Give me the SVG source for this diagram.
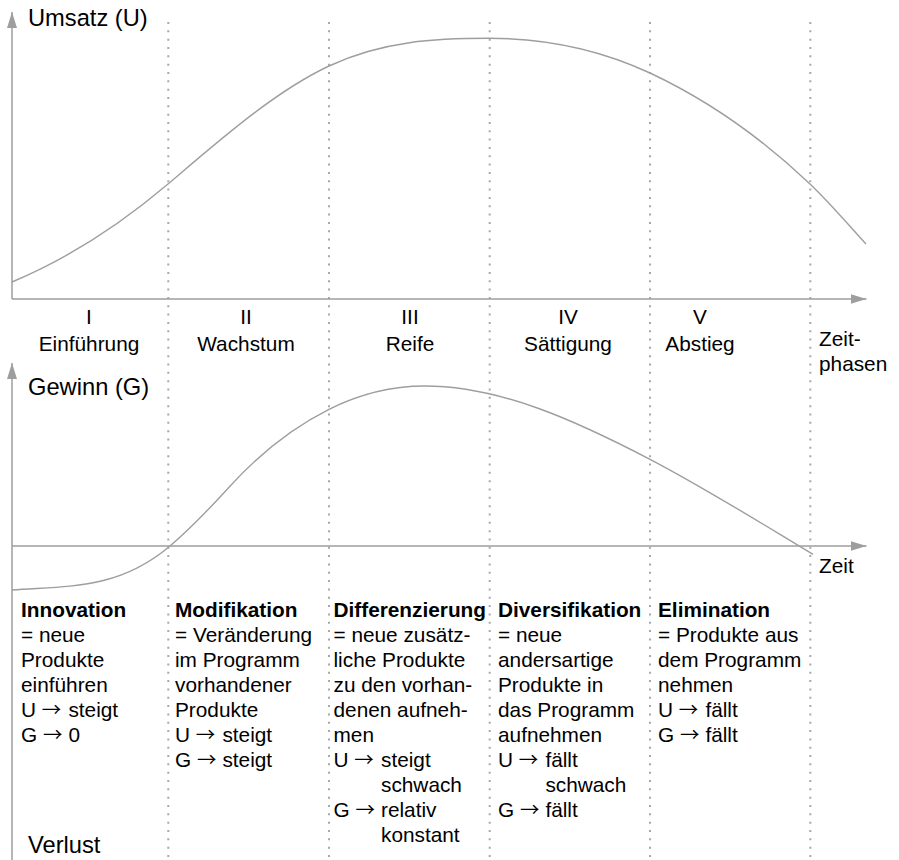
<svg xmlns="http://www.w3.org/2000/svg" width="899" height="860" viewBox="0 0 899 860">
<style>
.t{font-family:"Liberation Sans",Arial,Helvetica,sans-serif;font-size:20.8px;fill:#000}
.ax{font-size:23.7px}
.b{font-weight:bold}
.c{text-anchor:middle}
.ar{font-family:"Noto Sans CJK SC","DejaVu Sans",sans-serif;font-size:19.5px}
.axis{stroke:#9e9e9e;stroke-width:1.5;fill:none}
.curve{stroke:#9e9e9e;stroke-width:1.4;fill:none}
.div{stroke:#a8a8a8;stroke-width:2;stroke-dasharray:2 6.33;fill:none}
</style>
<defs>
<marker id="arr" markerUnits="userSpaceOnUse" markerWidth="17" markerHeight="11" refX="16" refY="5" orient="auto">
<path d="M0,0 L16,5 L0,10 Z" fill="#9e9e9e"/>
</marker>
</defs>
<rect width="899" height="860" fill="#fff"/>
<g id="dividers">
<line class="div" x1="168.3" y1="22" x2="168.3" y2="860"/>
<line class="div" x1="329" y1="22" x2="329" y2="860"/>
<line class="div" x1="489.7" y1="22" x2="489.7" y2="860"/>
<line class="div" x1="650" y1="22" x2="650" y2="860"/>
<line class="div" x1="810.3" y1="22" x2="810.3" y2="860"/>
</g>
<g id="connectors">
<path class="axis" d="M12,299 L12,12" marker-end="url(#arr)"/>
<path class="axis" d="M12,299 L866.5,299" marker-end="url(#arr)"/>
<path class="axis" d="M12,860 L12,363" marker-end="url(#arr)"/>
<path class="axis" d="M12,546 L866.5,546" marker-end="url(#arr)"/>
<path id="umsatz-curve" class="curve" d="M12,282 C64,260.2 116,228.2 168,184 C221.67,138.4 275.33,91.2 329,66 C382.57,40.8 436.13,38.3 489.7,38.3 C543.13,38.3 596.57,48.1 650,73 C703.33,98 756.67,133.3 810,184 C828.67,201.7 847.33,223.5 866,244"/>
<path id="gewinn-curve" class="curve" d="M12,590 C64.67,585.8 117.33,590.8 170,546 C189.83,529.1 209.67,508.5 229.5,486.7 C262.67,450.2 295.83,425.9 329,409.3 C360.87,393.4 392.73,386 424.6,386 C499.73,386 574.87,420.2 650,459.3 C704.33,487.6 758.67,521.7 813,554.3"/>
</g>
<g id="axis-labels">
<text class="t ax" x="28" y="26">Umsatz (U)</text>
<text class="t ax" x="28" y="395">Gewinn (G)</text>
<text class="t ax" x="28" y="853">Verlust</text>
<text class="t" x="819" y="346">Zeit-<tspan x="819" dy="25">phasen</tspan></text>
<text class="t" x="819" y="573">Zeit</text>
</g>
<g id="phase-1"><text class="t c" x="89" y="324">I<tspan x="89" dy="27">Einführung</tspan></text></g>
<g id="phase-2"><text class="t c" x="246" y="324">II<tspan x="246" dy="27">Wachstum</tspan></text></g>
<g id="phase-3"><text class="t c" x="410" y="324">III<tspan x="410" dy="27">Reife</tspan></text></g>
<g id="phase-4"><text class="t c" x="568" y="324">IV<tspan x="568" dy="27">Sättigung</tspan></text></g>
<g id="phase-5"><text class="t c" x="700" y="324">V<tspan x="700" dy="27">Abstieg</tspan></text></g>
<g id="strategy-1">
<text class="t" x="21" y="616.5"><tspan class="b">Innovation</tspan><tspan x="21" dy="25">= neue</tspan><tspan x="21" dy="25">Produkte</tspan><tspan x="21" dy="25">einführen</tspan><tspan x="21" dy="25">U <tspan class="ar">→</tspan></tspan><tspan x="68.4">steigt</tspan><tspan x="21" dy="25">G <tspan class="ar">→</tspan></tspan><tspan x="68.4">0</tspan></text>
</g>
<g id="strategy-2">
<text class="t" x="175" y="616.5"><tspan class="b">Modifikation</tspan><tspan x="175" dy="25">= Veränderung</tspan><tspan x="175" dy="25">im Programm</tspan><tspan x="175" dy="25">vorhandener</tspan><tspan x="175" dy="25">Produkte</tspan><tspan x="175" dy="25">U <tspan class="ar">→</tspan></tspan><tspan x="222.4">steigt</tspan><tspan x="175" dy="25">G <tspan class="ar">→</tspan></tspan><tspan x="222.4">steigt</tspan></text>
</g>
<g id="strategy-3">
<text class="t" x="333.5" y="616.5"><tspan class="b">Differenzierung</tspan><tspan x="333.5" dy="25">= neue zusätz-</tspan><tspan x="333.5" dy="25">liche Produkte</tspan><tspan x="333.5" dy="25">zu den vorhan-</tspan><tspan x="333.5" dy="25">denen aufneh-</tspan><tspan x="333.5" dy="25">men</tspan><tspan x="333.5" dy="25">U <tspan class="ar">→</tspan></tspan><tspan x="381">steigt</tspan><tspan x="381" dy="25">schwach</tspan><tspan x="333.5" dy="25">G <tspan class="ar">→</tspan></tspan><tspan x="381">relativ</tspan><tspan x="381" dy="25">konstant</tspan></text>
</g>
<g id="strategy-4">
<text class="t" x="498" y="616.5"><tspan class="b">Diversifikation</tspan><tspan x="498" dy="25">= neue</tspan><tspan x="498" dy="25">andersartige</tspan><tspan x="498" dy="25">Produkte in</tspan><tspan x="498" dy="25">das Programm</tspan><tspan x="498" dy="25">aufnehmen</tspan><tspan x="498" dy="25">U <tspan class="ar">→</tspan></tspan><tspan x="545.4">fällt</tspan><tspan x="545.4" dy="25">schwach</tspan><tspan x="498" dy="25">G <tspan class="ar">→</tspan></tspan><tspan x="545.4">fällt</tspan></text>
</g>
<g id="strategy-5">
<text class="t" x="658" y="616.5"><tspan class="b">Elimination</tspan><tspan x="658" dy="25">= Produkte aus</tspan><tspan x="658" dy="25">dem Programm</tspan><tspan x="658" dy="25">nehmen</tspan><tspan x="658" dy="25">U <tspan class="ar">→</tspan></tspan><tspan x="705.4">fällt</tspan><tspan x="658" dy="25">G <tspan class="ar">→</tspan></tspan><tspan x="705.4">fällt</tspan></text>
</g>
</svg>
